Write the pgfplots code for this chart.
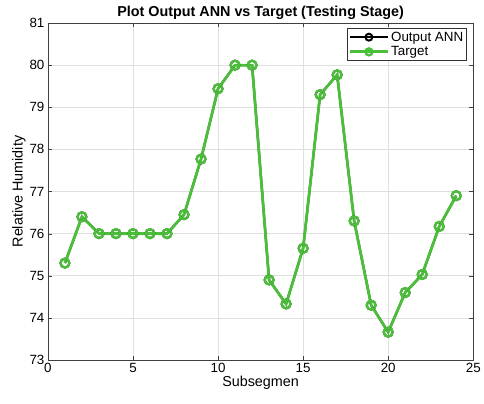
\documentclass[border=0pt]{standalone}
\usepackage{pgfplots}
\pgfplotsset{compat=1.18}
\usepackage{fontspec}
\setmainfont{Liberation Sans}
\definecolor{tgreen}{RGB}{77,190,60}
\begin{document}
\begin{tikzpicture}[x=1bp,y=1bp]
\pgfplotstableread{
x y
1 75.3
2 76.4
3 76.0
4 76.0
5 76.0
6 76.0
7 76.0
8 76.45
9 77.77
10 79.44
11 80.0
12 80.0
13 74.9
14 74.33
15 75.65
16 79.3
17 79.77
18 76.3
19 74.3
20 73.66
21 74.6
22 75.03
23 76.17
24 76.9
}\datatable
\draw[white] (0,0) rectangle (484,406);
\begin{axis}[
  at={(48bp,44bp)}, anchor=south west,
  width=428bp, height=339bp, scale only axis,
  xmin=0, xmax=25, ymin=73, ymax=81,
  xtick={0,5,10,15,20,25}, ytick={73,74,...,81},
  grid=major, grid style={gray!25, line width=0.5pt},
  axis line style={black!75, line width=0.6pt},
  tick style={black!75},
  tick align=inside, major tick length=4bp,
  /pgf/number format/assume math mode=true,
  tick label style={font=\fontsize{13.5}{15}\selectfont},
  xlabel={Subsegmen}, ylabel={Relative Humidity},
  label style={font=\fontsize{14.5}{16}\selectfont},
  xlabel style={yshift=4bp},
  ylabel style={yshift=-3bp},
  title={\textbf{Plot Output ANN vs Target (Testing Stage)}},
  title style={font=\fontsize{14.5}{16}\selectfont, yshift=-6bp},
  legend style={at={(0.985,0.985)}, anchor=north east, draw=black!80,
    font=\fontsize{13.5}{15}\selectfont, inner sep=1.5bp, row sep=0bp, cells={anchor=west}},
  legend image code/.code={%
    \draw[#1, mark=none] (0bp,0bp) -- (38bp,0bp);
    \draw[#1, only marks, mark size=3.5pt] plot coordinates {(19bp,0bp)};},
  legend cell align=left,
]
\addplot[black, line width=2.2pt, mark=o, mark size=4.5pt, mark options={line width=2pt}] table[x=x,y=y] {\datatable};
\addlegendentry{Output ANN}
\addplot[tgreen, line width=2.8pt, mark=o, mark size=4.5pt, mark options={line width=2.4pt}] table[x=x,y=y] {\datatable};
\addlegendentry{Target}
\end{axis}
\end{tikzpicture}
\end{document}
